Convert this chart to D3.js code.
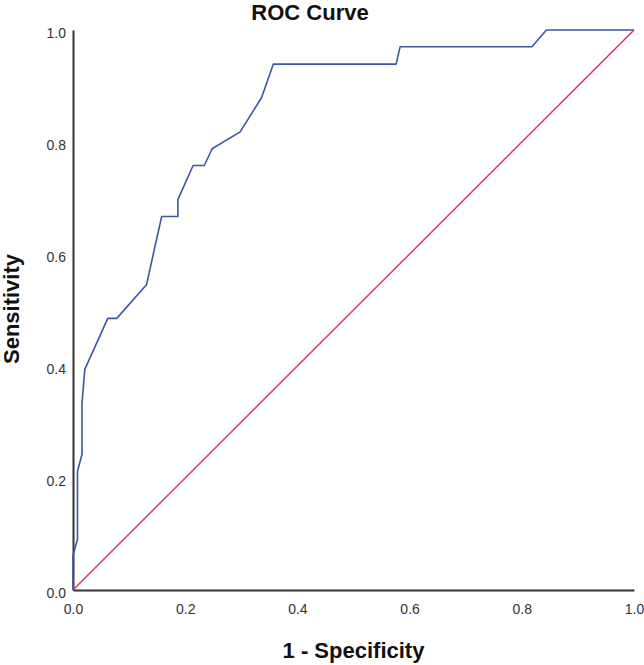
<!DOCTYPE html>
<html>
<head>
<meta charset="utf-8">
<script src="https://cdn.jsdelivr.net/npm/d3@7/dist/d3.min.js"></script>
<style>
  html, body { margin: 0; padding: 0; background: #ffffff; }
  svg { display: block; }
  text { font-family: Arial, "Liberation Sans", sans-serif; }
</style>
</head>
<body>
<svg id="chart" width="644" height="665"></svg>
<script>
// ---- data ----
const fpr = [0, 0, 0.008, 0.008, 0.016, 0.016, 0.021, 0.062, 0.078, 0.131, 0.158, 0.187, 0.187,
             0.214, 0.234, 0.248, 0.298, 0.336, 0.357, 0.576, 0.583, 0.818, 0.844, 1.0];
const tpr = [0, 0.061, 0.091, 0.212, 0.242, 0.333, 0.394, 0.485, 0.485, 0.545, 0.667, 0.667, 0.697,
             0.758, 0.758, 0.788, 0.818, 0.879, 0.939, 0.939, 0.970, 0.970, 1.0, 1.0];
const refX = [0, 1];
const refY = [0, 1];
const tickValues = [0, 0.2, 0.4, 0.6, 0.8, 1.0];
const titleText = "ROC Curve";
const xLabel = "1 - Specificity";
const yLabel = "Sensitivity";

// ---- layout ----
const svg = d3.select("#chart");
const x = d3.scaleLinear().domain([0, 1]).range([73, 634]);
const y = d3.scaleLinear().domain([0, 1]).range([590, 30]);

// axes (no tick marks, just labels)
const xAxis = d3.axisBottom(x).tickValues(tickValues).tickFormat(d3.format(".1f")).tickSize(0).tickPadding(14);
const yAxis = d3.axisLeft(y).tickValues(tickValues).tickFormat(d3.format(".1f")).tickSize(0).tickPadding(7);

const gx = svg.append("g").attr("transform", `translate(0,${y(0)})`).call(xAxis);
const gy = svg.append("g").attr("transform", `translate(${x(0)},0)`).call(yAxis);

[gx, gy].forEach(g => {
  g.select(".domain").attr("stroke", "#333333").attr("stroke-width", 2);
  g.selectAll("text").attr("font-size", 14).attr("fill", "#333333")
   .attr("font-family", 'Arial, "Liberation Sans", sans-serif');
});
gy.selectAll("text").attr("dy", "0.55em");

// reference diagonal
const refData = refX.map((v, i) => [v, refY[i]]);
svg.append("path")
  .datum(refData)
  .attr("fill", "none")
  .attr("stroke", "#e2304c")
  .attr("stroke-width", 1.4)
  .attr("d", d3.line().x(d => x(d[0])).y(d => y(d[1])));

// ROC curve
const rocData = fpr.map((v, i) => [v, tpr[i]]);
svg.append("path")
  .datum(rocData)
  .attr("fill", "none")
  .attr("stroke", "#3b56a6")
  .attr("stroke-width", 1.6)
  .attr("stroke-linejoin", "round")
  .attr("d", d3.line().x(d => x(d[0])).y(d => y(d[1])));

// title
svg.append("text")
  .attr("x", 310).attr("y", 20)
  .attr("text-anchor", "middle")
  .attr("font-size", 22).attr("font-weight", "bold").attr("fill", "#111111")
  .text(titleText);

// x label
svg.append("text")
  .attr("x", 353.5).attr("y", 658)
  .attr("text-anchor", "middle")
  .attr("font-size", 22).attr("font-weight", "bold").attr("fill", "#111111")
  .text(xLabel);

// y label
svg.append("text")
  .attr("transform", "translate(18.5,309) rotate(-90)")
  .attr("text-anchor", "middle")
  .attr("font-size", 22).attr("font-weight", "bold").attr("fill", "#111111")
  .text(yLabel);
</script>
</body>
</html>
